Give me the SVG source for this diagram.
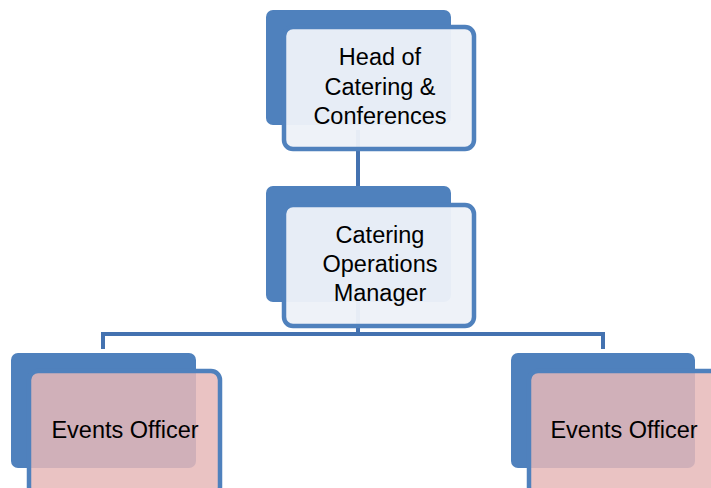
<svg xmlns="http://www.w3.org/2000/svg" width="711" height="488" viewBox="0 0 711 488">
<style>
.back{fill:#4F81BD}
.front{stroke:#4F81BD;stroke-width:4.5}
.fb{fill:#EDF1F8;fill-opacity:0.96}
.fp{fill:#E6B9B8;fill-opacity:0.85}
.conn{stroke:#4472B0;stroke-width:4;fill:none}
text{font-family:"Liberation Sans",Arial,sans-serif;font-size:23.5px;fill:#000;text-anchor:middle}
</style>
<rect width="711" height="488" fill="#fff"/>
<g id="connectors">
<line class="conn" x1="358" y1="130" x2="358" y2="186"/>
<line class="conn" x1="358" y1="300" x2="358" y2="334"/>
<polyline class="conn" points="103,349 103,334 603,334 603,349"/>
</g>
<g id="head">
<rect class="back" x="266" y="10" width="185" height="115" rx="7"/>
<rect class="front fb" x="284" y="27" width="190" height="122" rx="9"/>
<text x="380" y="65">Head of</text>
<text x="380" y="95">Catering &amp;</text>
<text x="380" y="124">Conferences</text>
</g>
<g id="manager">
<rect class="back" x="266" y="186" width="185" height="116" rx="7"/>
<rect class="front fb" x="284" y="205" width="190" height="121" rx="9"/>
<text x="380" y="243">Catering</text>
<text x="380" y="272">Operations</text>
<text x="380" y="301">Manager</text>
</g>
<g id="events1">
<rect class="back" x="11" y="353" width="185" height="115" rx="7"/>
<rect class="front fp" x="29" y="371" width="191" height="125" rx="9"/>
<text x="125" y="438">Events Officer</text>
</g>
<g id="events2">
<rect class="back" x="511" y="353" width="184" height="115" rx="7"/>
<rect class="front fp" x="529" y="371" width="191" height="125" rx="9"/>
<text x="624" y="438">Events Officer</text>
</g>
</svg>
